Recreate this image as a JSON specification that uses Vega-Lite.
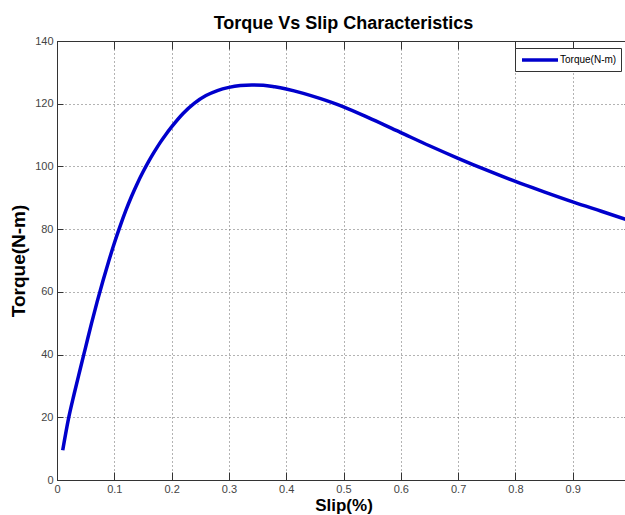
{
  "$schema": "https://vega.github.io/schema/vega-lite/v6.json",
  "width": 573,
  "height": 439,
  "autosize": {"type": "none"},
  "padding": {"left": 57, "top": 41, "right": 0, "bottom": 35},
  "background": "white",
  "config": {
    "font": "Liberation Sans",
    "view": {"stroke": "#333", "strokeWidth": 1}
  },
  "title": {
    "text": "Torque Vs Slip Characteristics",
    "fontSize": 18,
    "fontWeight": "bold",
    "color": "#000",
    "offset": 2,
    "font": "Liberation Sans"
  },
  "data": {
    "values": [
      {"slip": 0.01, "torque": 9.5, "series": "Torque(N-m)"},
      {"slip": 0.02, "torque": 19.5, "series": "Torque(N-m)"},
      {"slip": 0.03, "torque": 27.5, "series": "Torque(N-m)"},
      {"slip": 0.04, "torque": 35, "series": "Torque(N-m)"},
      {"slip": 0.05, "torque": 42.4, "series": "Torque(N-m)"},
      {"slip": 0.06, "torque": 49.8, "series": "Torque(N-m)"},
      {"slip": 0.07, "torque": 56.8, "series": "Torque(N-m)"},
      {"slip": 0.08, "torque": 63.4, "series": "Torque(N-m)"},
      {"slip": 0.09, "torque": 69.6, "series": "Torque(N-m)"},
      {"slip": 0.10, "torque": 75.5, "series": "Torque(N-m)"},
      {"slip": 0.11, "torque": 80.9, "series": "Torque(N-m)"},
      {"slip": 0.12, "torque": 85.9, "series": "Torque(N-m)"},
      {"slip": 0.13, "torque": 90.4, "series": "Torque(N-m)"},
      {"slip": 0.14, "torque": 94.5, "series": "Torque(N-m)"},
      {"slip": 0.15, "torque": 98.2, "series": "Torque(N-m)"},
      {"slip": 0.16, "torque": 101.6, "series": "Torque(N-m)"},
      {"slip": 0.17, "torque": 104.7, "series": "Torque(N-m)"},
      {"slip": 0.18, "torque": 107.6, "series": "Torque(N-m)"},
      {"slip": 0.19, "torque": 110.2, "series": "Torque(N-m)"},
      {"slip": 0.20, "torque": 112.6, "series": "Torque(N-m)"},
      {"slip": 0.22, "torque": 116.9, "series": "Torque(N-m)"},
      {"slip": 0.24, "torque": 120.2, "series": "Torque(N-m)"},
      {"slip": 0.26, "torque": 122.6, "series": "Torque(N-m)"},
      {"slip": 0.28, "torque": 124.2, "series": "Torque(N-m)"},
      {"slip": 0.30, "torque": 125.2, "series": "Torque(N-m)"},
      {"slip": 0.32, "torque": 125.8, "series": "Torque(N-m)"},
      {"slip": 0.34, "torque": 126, "series": "Torque(N-m)"},
      {"slip": 0.36, "torque": 125.9, "series": "Torque(N-m)"},
      {"slip": 0.38, "torque": 125.4, "series": "Torque(N-m)"},
      {"slip": 0.40, "torque": 124.7, "series": "Torque(N-m)"},
      {"slip": 0.43, "torque": 123.3, "series": "Torque(N-m)"},
      {"slip": 0.46, "torque": 121.6, "series": "Torque(N-m)"},
      {"slip": 0.50, "torque": 119, "series": "Torque(N-m)"},
      {"slip": 0.55, "torque": 115, "series": "Torque(N-m)"},
      {"slip": 0.60, "torque": 110.8, "series": "Torque(N-m)"},
      {"slip": 0.65, "torque": 106.6, "series": "Torque(N-m)"},
      {"slip": 0.70, "torque": 102.6, "series": "Torque(N-m)"},
      {"slip": 0.75, "torque": 98.8, "series": "Torque(N-m)"},
      {"slip": 0.80, "torque": 95.2, "series": "Torque(N-m)"},
      {"slip": 0.85, "torque": 91.9, "series": "Torque(N-m)"},
      {"slip": 0.90, "torque": 88.7, "series": "Torque(N-m)"},
      {"slip": 0.95, "torque": 85.7, "series": "Torque(N-m)"},
      {"slip": 1.00, "torque": 82.7, "series": "Torque(N-m)"}
    ]
  },
  "layer": [
    {
      "mark": {"type": "line", "strokeWidth": 3.5, "interpolate": "monotone"},
      "encoding": {
        "x": {
          "field": "slip",
          "type": "quantitative",
          "scale": {"domain": [0, 1], "nice": false},
          "axis": {
            "values": [0, 0.1, 0.2, 0.3, 0.4, 0.5, 0.6, 0.7, 0.8, 0.9],
            "format": "~g",
            "grid": true,
            "gridDash": [1, 3],
            "gridColor": "#666",
            "gridWidth": 1,
            "domainColor": "#333",
            "tickColor": "#333",
            "tickSize": -8,
            "labelPadding": 11,
            "labelFontSize": 11,
            "labelColor": "#444",
            "labelFlush": false,
            "title": "Slip(%)",
            "titleFontSize": 17,
            "titleFontWeight": "bold",
            "titleColor": "#000",
            "titlePadding": 3
          }
        },
        "y": {
          "field": "torque",
          "type": "quantitative",
          "scale": {"domain": [0, 140], "nice": false},
          "axis": {
            "values": [0, 20, 40, 60, 80, 100, 120, 140],
            "grid": true,
            "gridDash": [1, 3],
            "gridColor": "#666",
            "gridWidth": 1,
            "domainColor": "#333",
            "tickColor": "#333",
            "tickSize": -6,
            "labelPadding": 10,
            "labelFontSize": 11,
            "labelColor": "#444",
            "labelFlush": false,
            "title": "Torque(N-m)",
            "titleFontSize": 19,
            "titleFontWeight": "bold",
            "titleColor": "#000",
            "titlePadding": 6
          }
        },
        "color": {
          "field": "series",
          "type": "nominal",
          "scale": {"domain": ["Torque(N-m)"], "range": ["#0000cc"]},
          "legend": {
            "title": null,
            "orient": "none",
            "legendX": 458,
            "legendY": 7,
            "strokeColor": "#333",
            "fillColor": "white",
            "padding": 4,
            "symbolType": "M-3,0H3",
            "symbolSize": 144,
            "symbolOffset": 13,
            "symbolStrokeWidth": 3.5,
            "labelFontSize": 10,
            "labelColor": "#000",
            "labelOffset": 12
          }
        }
      }
    },
    {
      "mark": {"type": "line", "opacity": 0},
      "encoding": {
        "x": {
          "field": "slip",
          "type": "quantitative",
          "axis": {
            "orient": "top",
            "values": [0, 0.1, 0.2, 0.3, 0.4, 0.5, 0.6, 0.7, 0.8, 0.9, 1],
            "labels": false,
            "title": null,
            "grid": false,
            "domainColor": "#333",
            "tickColor": "#333",
            "tickSize": -8
          }
        },
        "y": {
          "field": "torque",
          "type": "quantitative",
          "axis": {
            "orient": "right",
            "values": [0, 20, 40, 60, 80, 100, 120, 140],
            "labels": false,
            "title": null,
            "grid": false,
            "domainColor": "#333",
            "tickColor": "#333",
            "tickSize": -6
          }
        }
      }
    }
  ],
  "resolve": {"axis": {"x": "independent", "y": "independent"}}
}
